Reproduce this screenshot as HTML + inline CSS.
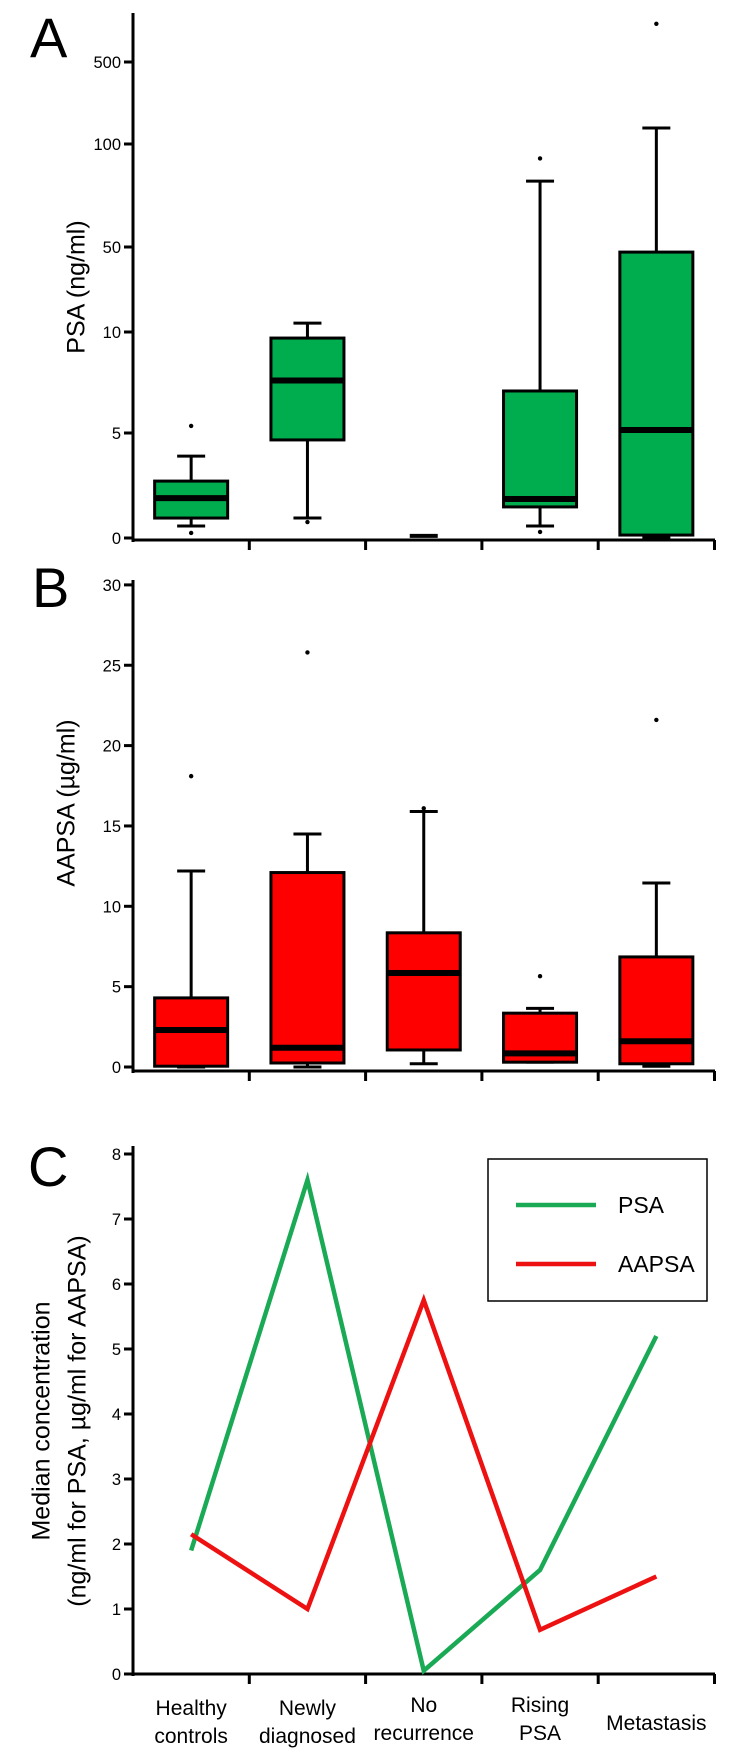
<!DOCTYPE html>
<html><head><meta charset="utf-8"><style>
html,body{margin:0;padding:0;background:#fff;}
svg{display:block;font-family:"Liberation Sans",sans-serif;}
</style></head><body>
<svg id="fig" width="750" height="1764" viewBox="0 0 750 1764" xmlns="http://www.w3.org/2000/svg">
<g id="pa"></g>
<g id="pb"></g>
<g id="pc"></g>
</svg>
<script>
const categories = ["Healthy controls","Newly diagnosed","No recurrence","Rising PSA","Metastasis"];
// Panel A PSA boxplot stats (ng/ml)
const psaLow    = [0.57, 0.95, 0.10, 0.57, 0.05];
const psaQ1     = [0.95, 4.67, 0.10, 1.48, 0.14];
const psaMedian = [1.90, 7.60, 0.10, 1.86, 5.15];
const psaQ3     = [2.71, 9.70, 0.10, 7.08, 47.6];
const psaHigh   = [3.90, 14.2, 0.10, 82, 178];
const psaOutliers = [[0,5.35],[0,0.24],[1,0.76],[3,93],[3,0.29],[4,695]];
const psaTicks = [0,5,10,50,100,500];
// Panel B AAPSA boxplot stats (ug/ml)
const aaLow    = [0.0, 0.0, 0.2, 0.3, 0.05];
const aaQ1     = [0.05, 0.25, 1.06, 0.3, 0.2];
const aaMedian = [2.3, 1.2, 5.85, 0.85, 1.6];
const aaQ3     = [4.3, 12.1, 8.35, 3.35, 6.85];
const aaHigh   = [12.2, 14.5, 15.9, 3.65, 11.45];
const aaOutliers = [[0,18.1],[1,25.8],[2,16.1],[3,5.65],[4,21.6]];
const aaTicks = [0,5,10,15,20,25,30];
// Panel C medians
const medPSA   = [1.9, 7.6, 0.05, 1.6, 5.2];
const medAAPSA = [2.15, 1.0, 5.75, 0.68, 1.5];
const cTicks = [0,1,2,3,4,5,6,7,8];

const NS="http://www.w3.org/2000/svg";
function mk(parent, tag, attrs, text){
  const e=document.createElementNS(NS,tag);
  for(const k in attrs) e.setAttribute(k,attrs[k]);
  if(text!==undefined) e.textContent=text;
  parent.appendChild(e); return e;
}
const X0=133, BAND=116.3;
function xc(i){ return X0 + BAND*(i+0.5); }
const aDom=[0,5,10,50,100,500,750], aRng=[538,433,332,247,144,62,13];
function yA(v){
  for(let i=0;i<aDom.length-1;i++){
    if(v<=aDom[i+1]||i===aDom.length-2){
      return aRng[i]+(v-aDom[i])/(aDom[i+1]-aDom[i])*(aRng[i+1]-aRng[i]);
    }
  }
}
function yB(v){ return 1067 - v*16.07; }
function yC(v){ return 1674 - v*65; }

function axes(g, top, base, ticks, yf, tickName){
  const ax=mk(g,'line',{x1:X0,y1:top,x2:X0,y2:base+2,stroke:'#000','stroke-width':3});
  
  
  const bx=mk(g,'line',{x1:X0-1.5,y1:base,x2:715,y2:base,stroke:'#000','stroke-width':3});
  
  
  for(let i=1;i<=5;i++){
    const x=X0+BAND*i;
    const t=mk(g,'line',{x1:x,y1:base,x2:x,y2:base+10,stroke:'#000','stroke-width':3});
    
    
  }
  ticks.forEach(v=>{
    const y=yf(v);
    const t=mk(g,'line',{x1:X0-9,y1:y,x2:X0,y2:y,stroke:'#000','stroke-width':3});
    
    
    const l=mk(g,'text',{x:X0-12,y:y+6,'text-anchor':'end','font-size':16.5,fill:'#000'},String(v));
    
    
  });
}
function boxes(g, low,q1,med,q3,high,outs,yf,fill){
  for(let i=0;i<low.length;i++){
    const c=xc(i), w=73;
    const bg=mk(g,'g',{});
    
    
    const yl=yf(low[i]), yh=yf(high[i]), y1=yf(q1[i]), y3=yf(q3[i]), ym=yf(med[i]);
    if(Math.abs(yl-yh)<1){
      mk(bg,'line',{x1:c-14,y1:ym,x2:c+14,y2:ym,stroke:'#000','stroke-width':4});
      continue;
    }
    mk(bg,'line',{x1:c,y1:yh,x2:c,y2:y3,stroke:'#000','stroke-width':3});
    mk(bg,'line',{x1:c,y1:y1,x2:c,y2:yl,stroke:'#000','stroke-width':3});
    mk(bg,'line',{x1:c-14,y1:yh,x2:c+14,y2:yh,stroke:'#000','stroke-width':3});
    mk(bg,'line',{x1:c-14,y1:yl,x2:c+14,y2:yl,stroke:'#000','stroke-width':3});
    mk(bg,'rect',{x:c-w/2,y:y3,width:w,height:Math.max(1,y1-y3),fill:fill,stroke:'#000','stroke-width':3});
    mk(bg,'line',{x1:c-w/2,y1:ym,x2:c+w/2,y2:ym,stroke:'#000','stroke-width':6});
  }
  outs.forEach(o=>{
    const d=mk(g,'circle',{cx:xc(o[0]),cy:yf(o[1]),r:2.2,fill:'#000'});
    
    
  });
}
function letter(g,ch,x,y){
  const t=mk(g,'text',{x:x,y:y,'font-size':56,fill:'#000'},ch);
  
  
}
function ylabel(g,lines,cx,cy,size){
  lines.forEach((s,k)=>{
    const x=cx[k];
    const t=mk(g,'text',{x:x,y:cy,'text-anchor':'middle','font-size':size,fill:'#000',transform:`rotate(-90 ${x} ${cy})`,'dominant-baseline':'middle'},s);
    
    
  });
}

const pa=document.getElementById('pa');
letter(pa,'A',30,57);
axes(pa,13,540,psaTicks,yA,'y-tick-label');
ylabel(pa,['PSA (ng/ml)'],[78],287,25);
boxes(pa,psaLow,psaQ1,psaMedian,psaQ3,psaHigh,psaOutliers,yA,'#00ad4e');

const pb=document.getElementById('pb');
letter(pb,'B',32,607);
axes(pb,580,1071,aaTicks,yB,'y-tick-label');
ylabel(pb,['AAPSA (\u00b5g/ml)'],[68],803,25);
boxes(pb,aaLow,aaQ1,aaMedian,aaQ3,aaHigh,aaOutliers,yB,'#ff0000');

const pc=document.getElementById('pc');
letter(pc,'C',28,1186);
axes(pc,1146,1674,cTicks,yC,'y-tick-label');
ylabel(pc,['Median concentration','(ng/ml for PSA, \u00b5g/ml for AAPSA)'],[43,79],1421,25);
function series(data,color,name){
  const pts=data.map((v,i)=>xc(i)+','+yC(v)).join(' ');
  const p=mk(pc,'polyline',{points:pts,fill:'none',stroke:color,'stroke-width':4.5,'stroke-linejoin':'miter'});
  
  
}
series(medPSA,'#1aaa55','psa-line');
series(medAAPSA,'#ee1111','aapsa-line');
categories.forEach((c,i)=>{
  const x=xc(i);
  const parts = c==='Metastasis' ? ['Metastasis'] : c.split(' ');
  const t=mk(pc,'text',{'text-anchor':'middle','font-size':21,fill:'#000'});
  
  
  if(parts.length===1){
    mk(t,'tspan',{x:x,y:1730},parts[0]);
  } else {
    const y0 = (i===2||i===3)?1712:1715;
    mk(t,'tspan',{x:x,y:y0},parts[0]);
    mk(t,'tspan',{x:x,y:y0+28},parts[1]);
  }
});
const lg=mk(pc,'g',{});


mk(lg,'rect',{x:488,y:1159,width:219,height:142,fill:'#fff',stroke:'#000','stroke-width':1.5});
const le1=mk(lg,'line',{x1:516,y1:1205,x2:596,y2:1205,stroke:'#1aaa55','stroke-width':4.5});


const lt1=mk(lg,'text',{x:618,y:1213,'font-size':23,fill:'#000'},'PSA');


const le2=mk(lg,'line',{x1:516,y1:1264,x2:596,y2:1264,stroke:'#ee1111','stroke-width':4.5});


const lt2=mk(lg,'text',{x:618,y:1272,'font-size':23,fill:'#000'},'AAPSA');


</script>
</body></html>
